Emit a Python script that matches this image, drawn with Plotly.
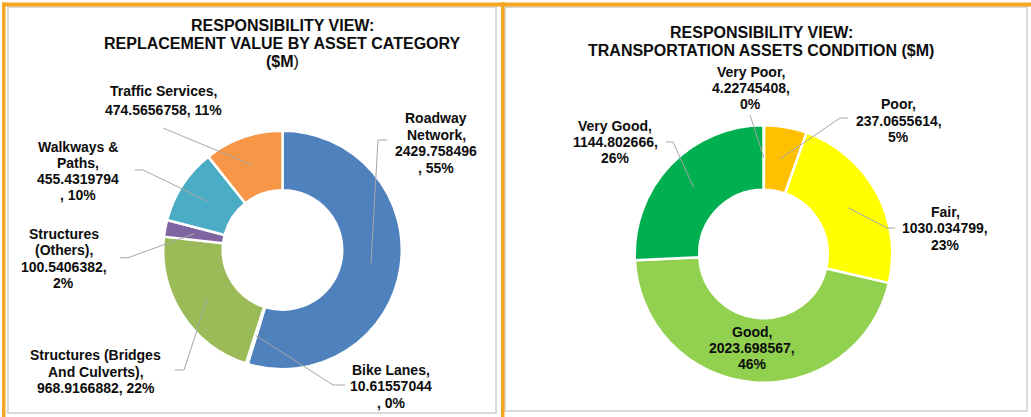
import math
import plotly.graph_objects as go

# ---------------- data ----------------
cat_names = ["Roadway Network", "Bike Lanes", "Structures (Bridges And Culverts)",
             "Structures (Others)", "Walkways & Paths", "Traffic Services"]
cat_values = [2429.758496, 10.61557044, 968.9166882, 100.5406382, 455.4319794, 474.5656758]

cond_names = ["Very Poor", "Poor", "Fair", "Good", "Very Good"]
cond_values = [4.22745408, 237.0655614, 1030.034799, 2023.698567, 1144.802666]

title_left = ["RESPONSIBILITY VIEW:", "REPLACEMENT VALUE BY ASSET CATEGORY", "($M"]
title_right = ["RESPONSIBILITY VIEW:", "TRANSPORTATION ASSETS CONDITION ($M)"]

# ---------------- styles / layout ----------------
W, H = 1031, 417
cat_colors = ["#4F81BD", "#C0504D", "#9BBB59", "#8064A2", "#4BACC6", "#F79646"]
cond_colors = ["#FF0000", "#FFC000", "#FFFF00", "#92D050", "#00B050"]
ORANGE = "#F5A623"
FONT = "Liberation Sans, Arial, sans-serif"
TXT = "#0d0d0d"
LEADER = "#A6A6A6"
SLICE_GAP = 2.5

# label wrapping templates (w = name words, v = value, p = percent)
cat_wrap = ["{w[0]}|{w[1]},|{v}|, {p}%",
            "{name},|{v}|, {p}%",
            "{w[0]} {w[1]}|{w[2]} {w[3]},|{v}, {p}%",
            "{w[0]}|{w[1]},|{v},|{p}%",
            "{w[0]} {w[1]}|{w[2]},|{v}|, {p}%",
            "{name},|{v}, {p}%"]
cond_wrap = ["{name},|{v},|{p}%"] * 5

# label placement: (center x px, first-line cap top px, line spacing px)
cat_lbl_pos = [(436, 113, 16.6), (391, 364.5, 16.6), (95.5, 350, 16.6),
               (63.5, 229, 16.4), (78, 141.5, 16.3), (163, 86, 18.8)]
cond_lbl_pos = [(750.5, 66.7, 16.3), (898.5, 99.3, 16.2), (945, 206.7, 16.6),
                (752, 326.7, 15.9), (615, 120.7, 16.3)]
# leader elbows near the label (px), ending at slice mid-ring (computed)
cat_leaders = [[(387, 140), (378, 140)], [(345, 385), (333, 385)], [(175, 370), (184, 370)],
               [(120, 257.7), (128, 257.7)], [(135, 170), (143, 170)], [(163, 128)]]
cond_leaders = [[(750, 115)], [(848, 118), (840, 118)], [(895, 228), (887, 228)],
                None, [(666, 142), (673, 142)]]

# donut geometry (visible)
L_C, L_R, L_RIN = (282.5, 250.0), 118.0, 61.0
R_C, R_R, R_RIN = (763.5, 254.0), 127.5, 65.5


def px(x):
    return x / W


def py(y):
    return 1 - y / H


fig = go.Figure()


def add_donut(names, values, colors, center, R_vis, rin_vis):
    R = R_vis + SLICE_GAP / 2
    hole = (rin_vis - SLICE_GAP / 2) / R
    cx, cy = center
    fig.add_trace(go.Pie(
        labels=names, values=values, sort=False, direction="clockwise", rotation=0,
        hole=hole, textinfo="none", showlegend=False,
        marker=dict(colors=colors, line=dict(color="white", width=SLICE_GAP)),
        domain=dict(x=[px(cx - R), px(cx + R)], y=[py(cy + R), py(cy - R)]),
    ))


def mid_points(values, center, r_mid):
    tot = sum(values)
    cum = 0
    pts = []
    for v in values:
        a = (cum + v / 2) / tot * 2 * math.pi
        pts.append((center[0] + r_mid * math.sin(a), center[1] - r_mid * math.cos(a)))
        cum += v
    return pts


def add_lines(lines, cx, top, spacing, size=14, cap=0.358):
    for i, t in enumerate(lines):
        fig.add_annotation(x=px(cx), y=py(top + i * spacing + cap * size), xref="paper", yref="paper",
                           text="<b>" + t + "</b>" if not t.startswith("<") else t,
                           showarrow=False, xanchor="center", yanchor="middle",
                           font=dict(family=FONT, size=size, color=TXT))


def add_labels(names, values, wraps, positions, leaders, center, r_mid):
    tot = sum(values)
    mids = mid_points(values, center, r_mid)
    for i, (n, v) in enumerate(zip(names, values)):
        p = round(v / tot * 100)
        txt = wraps[i].format(name=n, w=n.split(" "), v=repr(v), p=p)
        cx, top, sp = positions[i]
        add_lines(txt.split("|"), cx, top, sp)
        if leaders[i]:
            pts = leaders[i] + [mids[i]]
            path = "M " + " L ".join(f"{px(x):.5f},{py(y):.5f}" for x, y in pts)
            fig.add_shape(type="path", path=path, xref="paper", yref="paper",
                          line=dict(color=LEADER, width=1))


add_donut(cat_names, cat_values, cat_colors, L_C, L_R, L_RIN)
add_donut(cond_names, cond_values, cond_colors, R_C, R_R, R_RIN)

add_labels(cat_names, cat_values, cat_wrap, cat_lbl_pos, cat_leaders, L_C, (L_R + L_RIN) / 2)
add_labels(cond_names, cond_values, cond_wrap, cond_lbl_pos, cond_leaders, R_C, (R_R + R_RIN) / 2)

# titles
add_lines([title_left[0], title_left[1], "<b>" + title_left[2] + "</b>)"], 282, 20, 18.1, size=16)
add_lines(title_right, 761, 26.7, 18.4, size=16)

# panel frames
for x0, y0, x1, y1 in [(8, 7, 496, 413), (505, 7, 1027, 411)]:
    fig.add_shape(type="rect", xref="paper", yref="paper", x0=px(x0), y0=py(y1), x1=px(x1), y1=py(y0),
                  line=dict(color="#D9D9D9", width=2), fillcolor="rgba(0,0,0,0)", layer="below")
for x0, y0, x1, y1 in [(2, 2.5, 1031, 6.5), (2, 2.5, 5.5, 417), (501, 2.5, 504.5, 417)]:
    fig.add_shape(type="rect", xref="paper", yref="paper", x0=px(x0), y0=py(y1), x1=px(x1), y1=py(y0),
                  line=dict(width=0), fillcolor=ORANGE, layer="above")

fig.update_layout(width=W, height=H, margin=dict(l=0, r=0, t=0, b=0),
                  paper_bgcolor="white", plot_bgcolor="white")

fig.write_html("out.html", config={"displayModeBar": False},
               post_script="document.body.style.margin='0';")
